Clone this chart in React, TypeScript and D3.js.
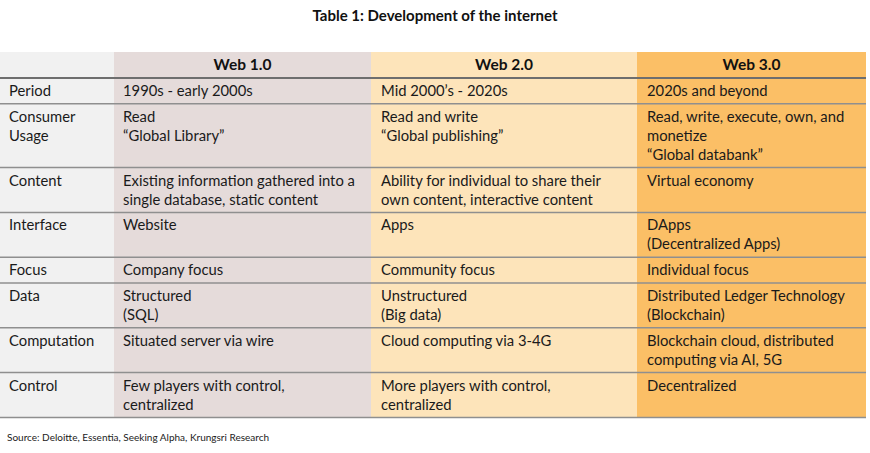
import React from "react";
import * as d3 from "d3";

const title = "Table 1: Development of the internet";
const source = "Source: Deloitte, Essentia, Seeking Alpha, Krungsri Research";
const headers = ["", "Web 1.0", "Web 2.0", "Web 3.0"];
const categories = ["Period", "Consumer\nUsage", "Content", "Interface", "Focus", "Data", "Computation", "Control"];
const web1 = [
  "1990s - early 2000s",
  "Read\n\u201cGlobal Library\u201d",
  "Existing information gathered into a\nsingle database, static content",
  "Website",
  "Company focus",
  "Structured\n(SQL)",
  "Situated server via wire",
  "Few players with control,\ncentralized",
];
const web2 = [
  "Mid 2000\u2019s - 2020s",
  "Read and write\n\u201cGlobal publishing\u201d",
  "Ability for individual to share their\nown content, interactive content",
  "Apps",
  "Community focus",
  "Unstructured\n(Big data)",
  "Cloud computing via 3-4G",
  "More players with control,\ncentralized",
];
const web3 = [
  "2020s and beyond",
  "Read, write, execute, own, and\nmonetize\n\u201cGlobal databank\u201d",
  "Virtual economy",
  "DApps\n(Decentralized Apps)",
  "Individual focus",
  "Distributed Ledger Technology\n(Blockchain)",
  "Blockchain cloud, distributed\ncomputing via AI, 5G",
  "Decentralized",
];
const rowLines = [1, 3, 2, 2, 1, 2, 2, 2];

const W = 870;
const H = 453;
const FONT = "Lato, 'Open Sans', sans-serif";
const colX = [0, 114, 371, 637, 866];
const colFill = ["#f1f1f1", "#e5dbda", "#fde4ba", "#fbbf66"];
const tableTop = 52;
const headerBottom = 78;
const lineH = 19;
const pad = 6.8;

export default function App() {
  const heights = rowLines.map((n) => n * lineH + pad);
  const cum = Array.from(d3.cumsum(heights));
  const rowTop = heights.map((_, i) => headerBottom + (i === 0 ? 0 : cum[i - 1]));
  const tableBottom = headerBottom + cum[cum.length - 1];
  const columns = [categories, web1, web2, web3];
  const textX = [9, 123, 381, 647];

  return (
    <svg width={W} height={H} style={{ position: "absolute", left: 0, top: 0, background: "#fff" }}>
      <rect x={0} y={0} width={W} height={H} fill="#ffffff" />
      <text x={W / 2} y={21} textAnchor="middle" fontFamily={FONT} fontSize={15} fontWeight={700} fill="#111">
        {title}
      </text>
      {colFill.map((c, i) => (
        <rect key={i} x={colX[i]} y={tableTop} width={colX[i + 1] - colX[i]} height={tableBottom - tableTop} fill={c} />
      ))}
      {headers.map((h, i) => (
        <text key={i} x={(colX[i] + colX[i + 1]) / 2} y={70} textAnchor="middle" fontFamily={FONT} fontSize={15.5} fontWeight={700} fill="#111">
          {h}
        </text>
      ))}
      <line x1={0} x2={colX[4]} y1={headerBottom} y2={headerBottom} stroke="#6e6e6e" strokeWidth={2} />
      {rowTop.slice(1).map((y, i) => (
        <line key={i} x1={0} x2={colX[4]} y1={y} y2={y} stroke="#8f8f8f" strokeWidth={1.5} />
      ))}
      <line x1={0} x2={colX[4]} y1={tableBottom} y2={tableBottom} stroke="#8f8f8f" strokeWidth={1.5} />
      {columns.map((col, ci) =>
        col.map((cell, ri) => (
          <text key={ci + "-" + ri} fontFamily={FONT} fontSize={14.8} fill="#1a1a1a">
            {cell.split("\n").map((ln, li) => (
              <tspan key={li} x={textX[ci]} y={rowTop[ri] + 18 + li * lineH}>
                {ln}
              </tspan>
            ))}
          </text>
        ))
      )}
      <text x={7} y={441} fontFamily={FONT} fontSize={10} fill="#222">
        {source}
      </text>
    </svg>
  );
}
